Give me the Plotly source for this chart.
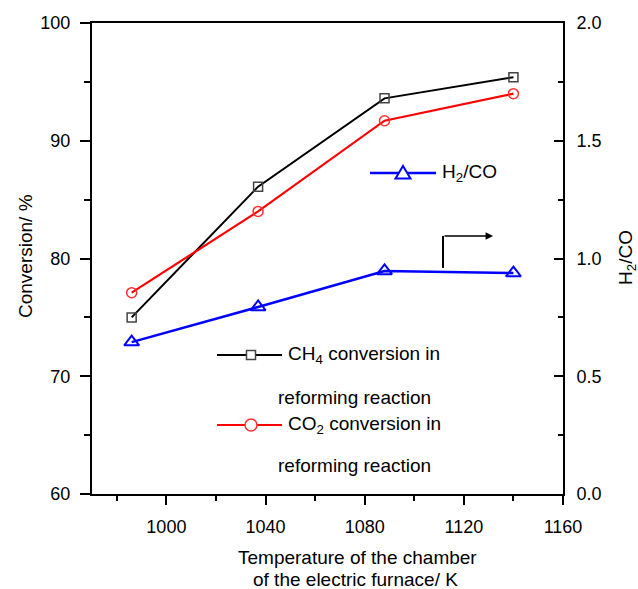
import plotly.graph_objects as go

# ---- data ----
temperature = [986, 1037, 1088, 1140]
ch4_conv = [75.0, 86.1, 93.6, 95.4]
co2_conv = [77.1, 84.0, 91.7, 94.0]
h2_co = [0.645, 0.794, 0.947, 0.938]

x_ticks = [1000, 1040, 1080, 1120, 1160]
y_ticks = [60, 70, 80, 90, 100]
y2_ticks = [0.0, 0.5, 1.0, 1.5, 2.0]

legend_ch4 = ["CH<sub>4</sub> conversion in", "reforming reaction"]
legend_co2 = ["CO<sub>2</sub> conversion in", "reforming reaction"]
legend_h2co = "H<sub>2</sub>/CO"

FONT = "Arial, Liberation Sans, sans-serif"
W, H = 638, 589
L, R, T, B = 92, 75, 23, 95
PW, PH = W - L - R, H - T - B


def px(x):
    return (x - L) / PW


def py(y):
    return (H - B - y) / PH


fig = go.Figure()

fig.add_trace(go.Scatter(
    x=temperature, y=ch4_conv, mode="lines+markers", name="CH4",
    line=dict(color="black", width=2),
    marker=dict(symbol="square-open", size=9, color="#444444", line=dict(width=1.5)),
))
fig.add_trace(go.Scatter(
    x=temperature, y=co2_conv, mode="lines+markers", name="CO2",
    line=dict(color="#ff0000", width=2.2),
    marker=dict(symbol="circle-open", size=10, color="#ff3030", line=dict(width=1.5)),
))
fig.add_trace(go.Scatter(
    x=temperature, y=h2_co, mode="lines+markers", yaxis="y2", name="H2/CO",
    line=dict(color="#0000ff", width=2.5),
    marker=dict(symbol="triangle-up-open", size=13, color="#0000ff", line=dict(width=2)),
))

axis_common = dict(
    showline=True, linecolor="black", linewidth=2,
    showgrid=False, zeroline=False,
    tickfont=dict(family=FONT, size=18, color="black"),
    tickcolor="black", tickwidth=2,
)

fig.update_layout(
    width=W, height=H,
    margin=dict(l=L, r=R, t=T, b=B),
    paper_bgcolor="white", plot_bgcolor="white",
    font=dict(family=FONT, size=19, color="black"),
    showlegend=False,
    xaxis=dict(
        range=[970, 1160], tickvals=x_ticks, ticks="outside", ticklen=9,
        mirror=True, ticklabelstandoff=6,
        minor=dict(dtick=20, tick0=1000, ticks="outside", ticklen=5, tickwidth=2, tickcolor="black"),
        **axis_common,
    ),
    yaxis=dict(
        range=[60, 100], tickvals=y_ticks, ticks="outside", ticklen=10,
        ticklabelstandoff=6,
        minor=dict(dtick=5, tick0=60, ticks="outside", ticklen=6, tickwidth=2, tickcolor="black"),
        **axis_common,
    ),
    yaxis2=dict(
        range=[0, 2.0], tickvals=y2_ticks, tickformat=".1f", ticks="inside", ticklen=9,
        overlaying="y", side="right", anchor="x",
        minor=dict(dtick=0.25, tick0=0, ticks="inside", ticklen=5, tickwidth=2, tickcolor="black"),
        ticklabelstandoff=8,
        **axis_common,
    ),
)

# axis titles
fig.add_annotation(text="Conversion/ %", xref="paper", yref="paper", x=px(25), y=py(256),
                   textangle=-90, showarrow=False, xanchor="center", yanchor="middle",
                   font=dict(family=FONT, size=19, color="black"))
fig.add_annotation(text="H<sub>2</sub>/CO", xref="paper", yref="paper", x=px(627), y=py(258),
                   textangle=-90, showarrow=False, xanchor="center", yanchor="middle",
                   font=dict(family=FONT, size=19, color="black"))
fig.add_annotation(text="Temperature of the chamber", xref="paper", yref="paper",
                   x=px(357), y=py(557), showarrow=False, xanchor="center", yanchor="middle",
                   font=dict(family=FONT, size=19, color="black"))
fig.add_annotation(text="of the electric furnace/ K", xref="paper", yref="paper",
                   x=px(355), y=py(579), showarrow=False, xanchor="center", yanchor="middle",
                   font=dict(family=FONT, size=19, color="black"))

# ---- manual legend ----
def legend_line(x0, x1, y, color, width):
    fig.add_shape(type="line", xref="paper", yref="paper", x0=px(x0), x1=px(x1),
                  y0=py(y), y1=py(y), line=dict(color=color, width=width))


def legend_text(text, x, y):
    fig.add_annotation(text=text, xref="paper", yref="paper", x=px(x), y=py(y),
                       showarrow=False, xanchor="left", yanchor="middle",
                       font=dict(family=FONT, size=19, color="black"))


# CH4 entry
legend_line(217, 282, 355, "black", 2)
fig.add_shape(type="rect", xref="paper", yref="paper", x0=px(246.5), x1=px(255.5),
              y0=py(359.5), y1=py(350.5), fillcolor="white", line=dict(color="#444444", width=1.5))
legend_text(legend_ch4[0], 286, 355)
legend_text(legend_ch4[1], 276, 397)

# CO2 entry
legend_line(217, 282, 425, "#ff0000", 2.2)
fig.add_shape(type="circle", xref="paper", yref="paper", x0=px(245), x1=px(257),
              y0=py(431), y1=py(419), fillcolor="white", line=dict(color="#ff3030", width=1.5))
legend_text(legend_co2[0], 286, 425)
legend_text(legend_co2[1], 276, 465)

# H2/CO entry
legend_line(370, 436, 173, "#0000ff", 2.5)
tri = "M {:.5f},{:.5f} L {:.5f},{:.5f} L {:.5f},{:.5f} Z".format(
    px(395.5), py(178.5), px(410.5), py(178.5), px(403), py(166))
fig.add_shape(type="path", xref="paper", yref="paper", path=tri, fillcolor="white",
              line=dict(color="#0000ff", width=2))
legend_text(legend_h2co, 440, 173)

# arrow pointing to the right axis
fig.add_shape(type="line", xref="x", yref="y2", x0=1111.6, x1=1111.6, y0=0.96, y1=1.096,
              line=dict(color="black", width=2))
fig.add_annotation(x=1131.8, y=1.096, ax=1111.6, ay=1.096, xref="x", yref="y2",
                   axref="x", ayref="y2", text="", showarrow=True,
                   arrowhead=2, arrowsize=1, arrowwidth=1.5, arrowcolor="black")

fig.write_html(
    "out.html",
    config={"displayModeBar": False},
    post_script="document.body.style.margin='0';document.body.style.overflow='hidden';",
)
